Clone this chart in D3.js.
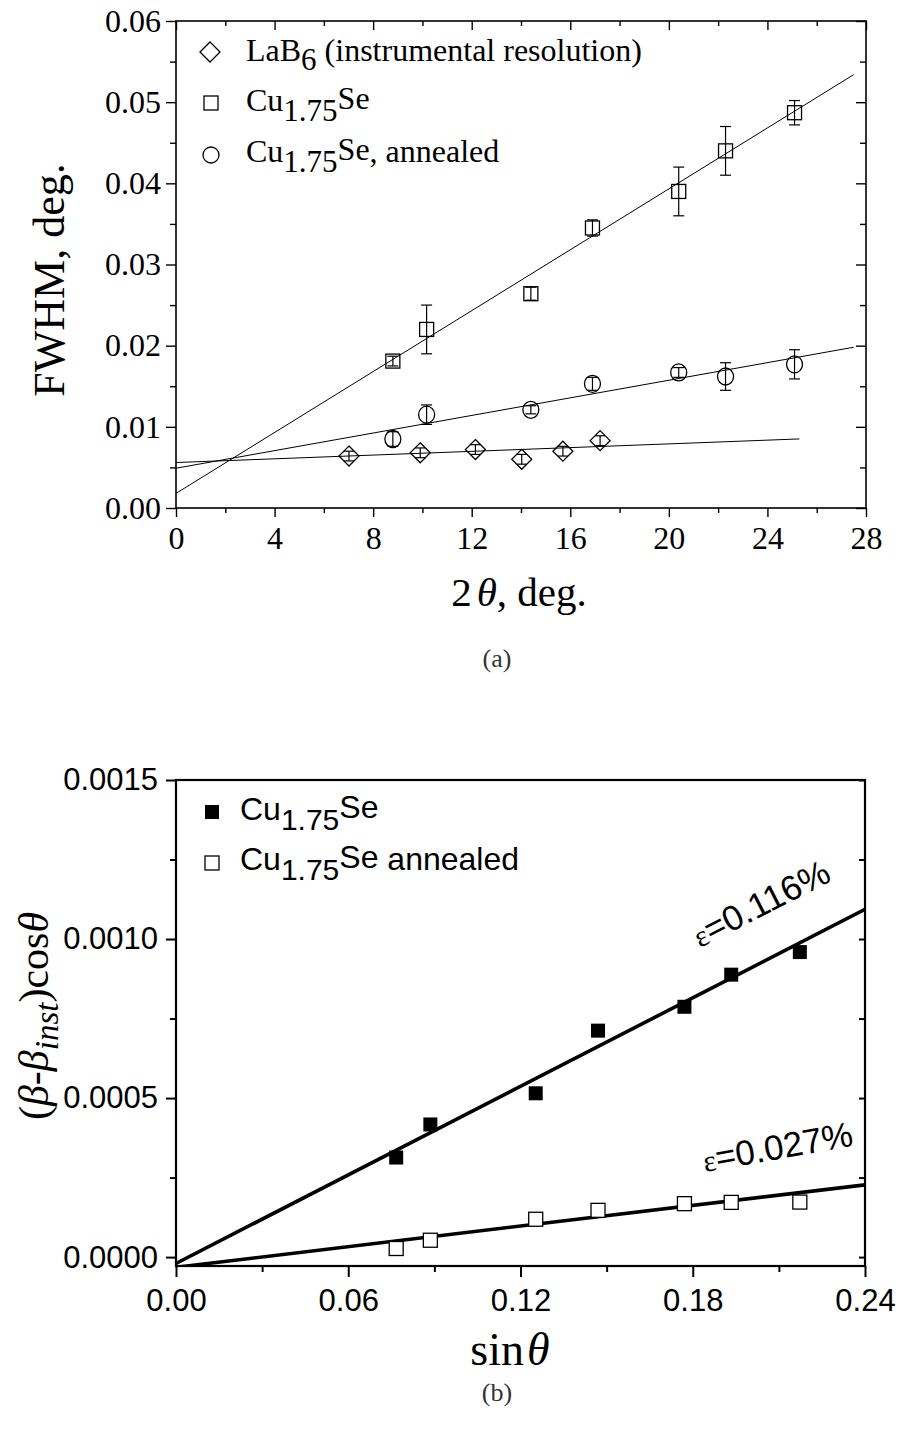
<!DOCTYPE html>
<html>
<head>
<meta charset="utf-8">
<script src="https://cdn.jsdelivr.net/npm/d3@7"></script>
<style>
  body { margin: 0; background: #fff; }
  svg { display: block; }
</style>
</head>
<body>
<svg id="fig" width="899" height="1429"></svg>
<script>
// ---------- Panel (a): FWHM vs 2θ ----------
const twoTheta      = [8.8, 10.17, 14.4, 16.9, 20.4, 22.3, 25.1];
const fwhmCu        = [0.0181, 0.0220, 0.0264, 0.0345, 0.0390, 0.0440, 0.0487];
const fwhmCuErr     = [0.0006, 0.0030, 0.0008, 0.0010, 0.0030, 0.0030, 0.0015];
const fwhmAnn       = [0.0085, 0.0115, 0.0121, 0.0153, 0.0167, 0.0162, 0.0177];
const fwhmAnnErr    = [0.0009, 0.0012, 0.0005, 0.0008, 0.0006, 0.0017, 0.0018];
const twoThetaLaB6  = [7.02, 9.91, 12.15, 14.03, 15.70, 17.21];
const fwhmLaB6      = [0.0064, 0.0068, 0.0072, 0.0060, 0.0070, 0.0083];
const fwhmLaB6Err   = [0.0006, 0.0006, 0.0006, 0.0006, 0.0006, 0.0006];
// linear fits: LaB6, Cu1.75Se, annealed
const fitAIntercept = [0.0056, 0.0018, 0.0049];
const fitASlope     = [0.000115, 0.001876, 0.000542];
const fitAXEnd      = [25.3, 27.5, 27.5];
const xTicksA       = [0, 4, 8, 12, 16, 20, 24, 28];
const xMinorA       = [2, 6, 10, 14, 18, 22, 26];
const yTicksA       = [0, 0.01, 0.02, 0.03, 0.04, 0.05, 0.06];
const yMinorA       = [0.005, 0.015, 0.025, 0.035, 0.045, 0.055];

// ---------- Panel (b): Williamson–Hall plot ----------
const sinTheta      = [0.0767, 0.0886, 0.1253, 0.1470, 0.1771, 0.1934, 0.2173];
const whCu          = [0.000313, 0.000417, 0.000515, 0.000712, 0.000787, 0.000888, 0.000959];
const whAnn         = [0.000027, 0.000053, 0.000119, 0.000147, 0.000168, 0.000172, 0.000173];
const strainPct     = [0.116, 0.027];          // ε in %, slope of fit = 4ε
const fitBIntercept = [-0.00002, -0.000032];
const xTicksB       = [0, 0.06, 0.12, 0.18, 0.24];
const xMinorB       = [0.03, 0.09, 0.15, 0.21];
const yTicksB       = [0, 0.0005, 0.0010, 0.0015];
const yMinorB       = [0.00025, 0.00075, 0.00125];

const SERIF = "'Liberation Serif','Times New Roman',serif";
const SANS  = "'Liberation Sans',Arial,sans-serif";

const svg = d3.select('#fig');
svg.append('rect').attr('width', 899).attr('height', 1429).attr('fill', '#fff');

function styleAxis(g, font, size, sw) {
  g.select('.domain').remove();
  g.selectAll('.tick line').attr('stroke', '#000').attr('stroke-width', sw);
  g.selectAll('.tick text').attr('fill', '#000').style('font-family', font).style('font-size', size + 'px');
}

// =================== Panel (a) ===================
const xA = d3.scaleLinear().domain([0, 28]).range([176, 866]);
const yA = d3.scaleLinear().domain([0, 0.06]).range([508, 21]);
const gA = svg.append('g');

// axes: bottom / left labelled with outward ticks, top / right inward
gA.append('g').attr('transform', `translate(0,${yA(0)})`)
  .call(d3.axisBottom(xA).tickValues(xTicksA).tickSize(9).tickPadding(9).tickFormat(d3.format('d')))
  .call(g => styleAxis(g, SERIF, 32, 1.4));
gA.append('g').attr('transform', `translate(0,${yA(0)})`)
  .call(d3.axisBottom(xA).tickValues(xMinorA).tickSize(5).tickFormat(''))
  .call(g => styleAxis(g, SERIF, 32, 1.4));
gA.append('g').attr('transform', `translate(0,${yA(0.06)})`)
  .call(d3.axisBottom(xA).tickValues(xTicksA).tickSize(9).tickFormat(''))
  .call(g => styleAxis(g, SERIF, 32, 1.4));
gA.append('g').attr('transform', `translate(0,${yA(0.06)})`)
  .call(d3.axisBottom(xA).tickValues(xMinorA).tickSize(5).tickFormat(''))
  .call(g => styleAxis(g, SERIF, 32, 1.4));
gA.append('g').attr('transform', `translate(${xA(0)},0)`)
  .call(d3.axisLeft(yA).tickValues(yTicksA).tickSize(10).tickPadding(5).tickFormat(d3.format('.2f')))
  .call(g => styleAxis(g, SERIF, 32, 1.4));
gA.append('g').attr('transform', `translate(${xA(0)},0)`)
  .call(d3.axisLeft(yA).tickValues(yMinorA).tickSize(6).tickFormat(''))
  .call(g => styleAxis(g, SERIF, 32, 1.4));
gA.append('g').attr('transform', `translate(${xA(28)},0)`)
  .call(d3.axisLeft(yA).tickValues(yTicksA).tickSize(10).tickFormat(''))
  .call(g => styleAxis(g, SERIF, 32, 1.4));
gA.append('g').attr('transform', `translate(${xA(28)},0)`)
  .call(d3.axisLeft(yA).tickValues(yMinorA).tickSize(6).tickFormat(''))
  .call(g => styleAxis(g, SERIF, 32, 1.4));

gA.append('rect')
  .attr('x', xA(0)).attr('y', yA(0.06))
  .attr('width', xA(28) - xA(0)).attr('height', yA(0) - yA(0.06))
  .attr('fill', 'none').attr('stroke', '#000').attr('stroke-width', 1.6);

// fit lines
svg.append('clipPath').attr('id', 'clipA').append('rect')
  .attr('x', xA(0)).attr('y', yA(0.06)).attr('width', xA(28) - xA(0)).attr('height', yA(0) - yA(0.06));
gA.append('g').attr('clip-path', 'url(#clipA)')
  .selectAll('line').data(d3.range(fitAIntercept.length)).join('line')
  .attr('x1', xA(0)).attr('y1', i => yA(fitAIntercept[i]))
  .attr('x2', i => xA(fitAXEnd[i])).attr('y2', i => yA(fitAIntercept[i] + fitASlope[i] * fitAXEnd[i]))
  .attr('stroke', '#000').attr('stroke-width', 1);

function errorBars(g, xs, ys, es, xScale, yScale, cap) {
  const eb = g.append('g').attr('stroke', '#000').attr('stroke-width', 1.2);
  xs.forEach((xv, i) => {
    const px = xScale(xv), yTop = yScale(ys[i] + es[i]), yBot = yScale(ys[i] - es[i]);
    eb.append('line').attr('x1', px).attr('x2', px).attr('y1', yTop).attr('y2', yBot);
    eb.append('line').attr('x1', px - cap).attr('x2', px + cap).attr('y1', yTop).attr('y2', yTop);
    eb.append('line').attr('x1', px - cap).attr('x2', px + cap).attr('y1', yBot).attr('y2', yBot);
  });
}

// markers
const diamond = (cx, cy, r) => `M${cx},${cy - r}L${cx + r},${cy}L${cx},${cy + r}L${cx - r},${cy}Z`;

errorBars(gA, twoThetaLaB6, fwhmLaB6, fwhmLaB6Err, xA, yA, 5);
gA.append('g').selectAll('path').data(twoThetaLaB6).join('path')
  .attr('d', (d, i) => diamond(xA(d), yA(fwhmLaB6[i]), 10))
  .attr('fill', 'none').attr('stroke', '#000').attr('stroke-width', 1.3);

errorBars(gA, twoTheta, fwhmCu, fwhmCuErr, xA, yA, 5.5);
gA.append('g').selectAll('rect').data(twoTheta).join('rect')
  .attr('x', d => xA(d) - 7).attr('y', (d, i) => yA(fwhmCu[i]) - 7)
  .attr('width', 14).attr('height', 14)
  .attr('fill', 'none').attr('stroke', '#000').attr('stroke-width', 1.3);

errorBars(gA, twoTheta, fwhmAnn, fwhmAnnErr, xA, yA, 5.5);
gA.append('g').selectAll('ellipse').data(twoTheta).join('ellipse')
  .attr('cx', d => xA(d)).attr('cy', (d, i) => yA(fwhmAnn[i]))
  .attr('rx', 8).attr('ry', 8.5)
  .attr('fill', 'none').attr('stroke', '#000').attr('stroke-width', 1.3);

// legend (a)
const legA = gA.append('g').style('font-family', SERIF).style('font-size', '32px').attr('fill', '#000');
legA.append('path').attr('d', diamond(210, 52, 10)).attr('fill', 'none').attr('stroke', '#000').attr('stroke-width', 1.3);
legA.append('rect').attr('x', 204).attr('y', 96).attr('width', 14).attr('height', 14).attr('fill', 'none').attr('stroke', '#000').attr('stroke-width', 1.3);
legA.append('circle').attr('cx', 211).attr('cy', 155).attr('r', 8).attr('fill', 'none').attr('stroke', '#000').attr('stroke-width', 1.3);

const t1 = legA.append('text').attr('x', 246).attr('y', 61);
t1.append('tspan').text('LaB');
t1.append('tspan').attr('dy', 9).style('font-size', '31px').text('6');
t1.append('tspan').attr('dy', -9).text(' (instrumental resolution)');

// "Cu" + lowered "1.75" + "Se" back near the baseline
function cuLabel(g, x, y, rest, size, subSize, subDy, supDy) {
  const t = g.append('text').attr('x', x).attr('y', y);
  t.append('tspan').text('Cu');
  t.append('tspan').attr('dy', subDy).style('font-size', subSize + 'px').text('1.75');
  t.append('tspan').attr('dy', supDy).style('font-size', size + 'px').text('Se');
  if (rest) t.append('tspan').attr('dy', -(subDy + supDy)).style('font-size', size + 'px').text(rest);
  return t;
}
cuLabel(legA, 246, 111, null, 32, 31, 10, -12);
cuLabel(legA, 246, 162, ', annealed', 32, 31, 10, -12);

// axis titles (a)
const tx = gA.append('text').attr('x', 519).attr('y', 606).attr('text-anchor', 'middle')
  .style('font-family', SERIF).style('font-size', '41px');
tx.append('tspan').text('2');
tx.append('tspan').attr('dx', 5).style('font-style', 'italic').text('θ');
tx.append('tspan').text(', deg.');

gA.append('text').attr('transform', 'translate(64,280) rotate(-90)').attr('text-anchor', 'middle')
  .style('font-family', SERIF).style('font-size', '44px').text('FWHM, deg.');

svg.append('text').attr('x', 497).attr('y', 667).attr('text-anchor', 'middle')
  .style('font-family', SERIF).style('font-size', '26px').attr('fill', '#333').text('(a)');

// =================== Panel (b) ===================
const xB = d3.scaleLinear().domain([0, 0.24]).range([176, 865]);
const yB = d3.scaleLinear().domain([-0.000028, 0.0015]).range([1266, 780]);
const gB = svg.append('g');

gB.append('g').attr('transform', `translate(0,${yB.range()[0]})`)
  .call(d3.axisBottom(xB).tickValues(xTicksB).tickSize(11).tickPadding(12).tickFormat(d3.format('.2f')))
  .call(g => styleAxis(g, SANS, 31, 2));
gB.append('g').attr('transform', `translate(0,${yB.range()[0]})`)
  .call(d3.axisBottom(xB).tickValues(xMinorB).tickSize(6).tickFormat(''))
  .call(g => styleAxis(g, SANS, 31, 2));
gB.append('g').attr('transform', `translate(${xB(0)},0)`)
  .call(d3.axisLeft(yB).tickValues(yTicksB).tickSize(10).tickPadding(8).tickFormat(d3.format('.4f')))
  .call(g => styleAxis(g, SANS, 31, 2));
gB.append('g').attr('transform', `translate(${xB(0)},0)`)
  .call(d3.axisLeft(yB).tickValues(yMinorB).tickSize(6).tickFormat(''))
  .call(g => styleAxis(g, SANS, 31, 2));
gB.append('g').attr('transform', `translate(${xB(0.24)},0)`)
  .call(d3.axisLeft(yB).tickValues(yTicksB.concat(yMinorB)).tickSize(6).tickFormat(''))
  .call(g => styleAxis(g, SANS, 31, 2));

gB.append('rect')
  .attr('x', xB(0)).attr('y', yB.range()[1])
  .attr('width', xB(0.24) - xB(0)).attr('height', yB.range()[0] - yB.range()[1])
  .attr('fill', 'none').attr('stroke', '#000').attr('stroke-width', 2.2);

svg.append('clipPath').attr('id', 'clipB').append('rect')
  .attr('x', xB(0)).attr('y', yB.range()[1]).attr('width', xB(0.24) - xB(0)).attr('height', yB.range()[0] - yB.range()[1]);

// fit lines, slope = 4ε
gB.append('g').attr('clip-path', 'url(#clipB)')
  .selectAll('line').data(d3.range(strainPct.length)).join('line')
  .attr('x1', xB(0)).attr('y1', i => yB(fitBIntercept[i]))
  .attr('x2', xB(0.24)).attr('y2', i => yB(fitBIntercept[i] + 4 * strainPct[i] / 100 * 0.24))
  .attr('stroke', '#000').attr('stroke-width', 3.6);

gB.append('g').selectAll('rect').data(sinTheta).join('rect')
  .attr('x', d => xB(d) - 7).attr('y', (d, i) => yB(whAnn[i]) - 7)
  .attr('width', 14).attr('height', 14)
  .attr('fill', '#fff').attr('stroke', '#000').attr('stroke-width', 1.3);
gB.append('g').selectAll('rect').data(sinTheta).join('rect')
  .attr('x', d => xB(d) - 7).attr('y', (d, i) => yB(whCu[i]) - 7)
  .attr('width', 14).attr('height', 14).attr('fill', '#000');

// strain annotations
const fmtPct = d3.format('.3f');
const ann = [[700, 948, -27], [705, 1172, -10]];
strainPct.forEach((e, i) => {
  const t = gB.append('text').attr('transform', `translate(${ann[i][0]},${ann[i][1]}) rotate(${ann[i][2]})`)
    .style('font-family', SANS).style('font-size', '35px');
  t.append('tspan').style('font-family', SERIF).style('font-size', '30px').text('ε');
  t.append('tspan').text('=' + fmtPct(e) + '%');
});

// legend (b)
const legB = gB.append('g').style('font-family', SANS).style('font-size', '32px').attr('fill', '#000');
legB.append('rect').attr('x', 205).attr('y', 805).attr('width', 14).attr('height', 14).attr('fill', '#000');
legB.append('rect').attr('x', 205).attr('y', 856).attr('width', 14).attr('height', 14).attr('fill', '#fff').attr('stroke', '#000').attr('stroke-width', 1.3);
cuLabel(legB, 240, 820, null, 32, 30, 10, -12);
cuLabel(legB, 240, 870, ' annealed', 32, 30, 10, -12);

// axis titles (b)
const sx = gB.append('text').attr('x', 510).attr('y', 1365).attr('text-anchor', 'middle')
  .style('font-family', SERIF).style('font-size', '46px');
sx.append('tspan').text('sin');
sx.append('tspan').attr('dx', 3).style('font-style', 'italic').text('θ');

const sy = gB.append('text').attr('transform', 'translate(48,1016) rotate(-90)').attr('text-anchor', 'middle')
  .style('font-family', SERIF).style('font-size', '42px');
sy.append('tspan').text('(');
sy.append('tspan').style('font-style', 'italic').text('β');
sy.append('tspan').text('-');
sy.append('tspan').style('font-style', 'italic').text('β');
sy.append('tspan').attr('dy', 10).style('font-style', 'italic').style('font-size', '33px').text('inst');
sy.append('tspan').attr('dy', -10).text(')cos');
sy.append('tspan').style('font-style', 'italic').text('θ');

svg.append('text').attr('x', 497).attr('y', 1401).attr('text-anchor', 'middle')
  .style('font-family', SERIF).style('font-size', '26px').attr('fill', '#333').text('(b)');
</script>
</body>
</html>
